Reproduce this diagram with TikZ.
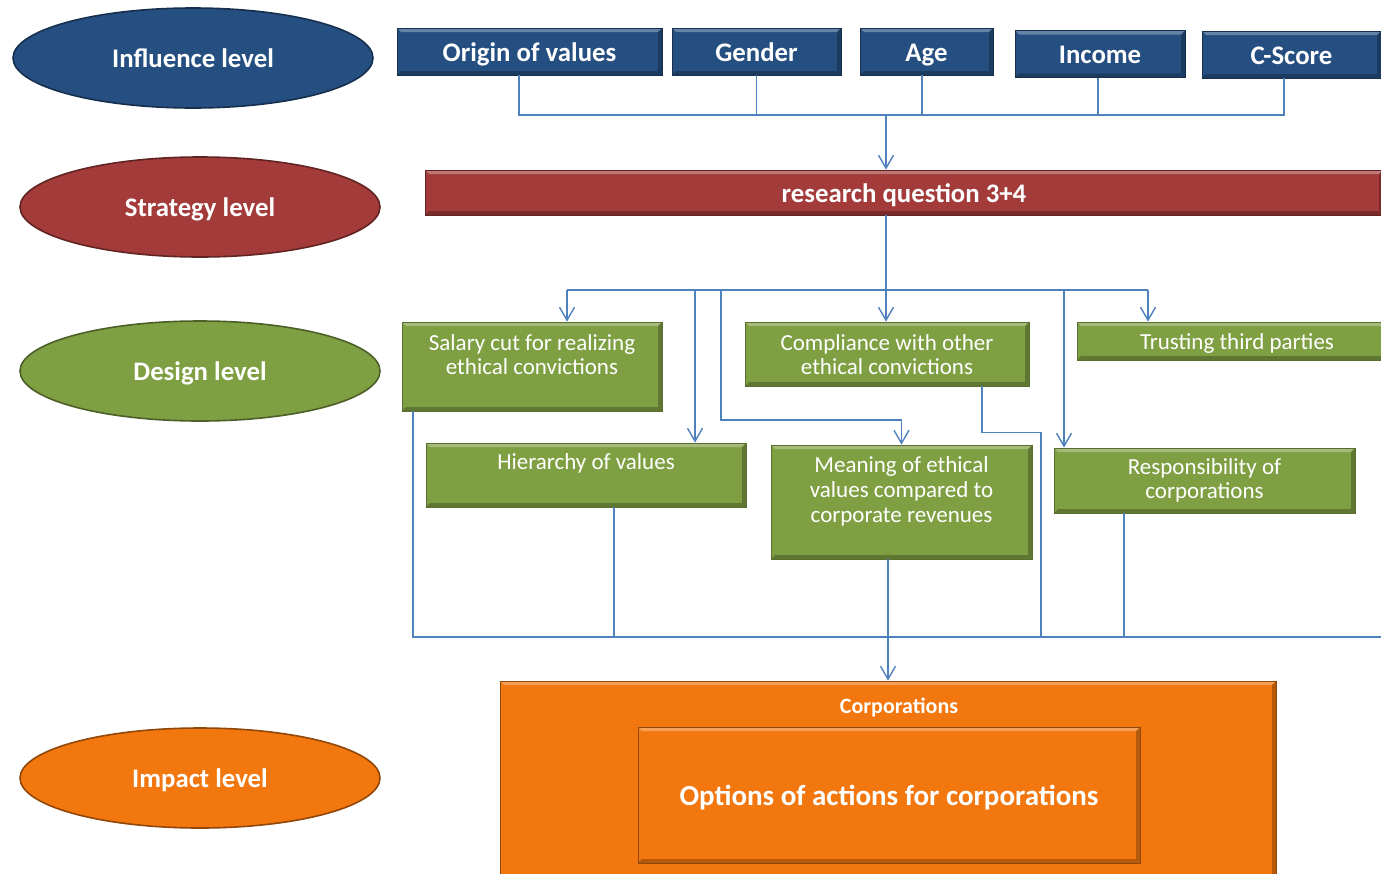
\documentclass[tikz,border=0pt]{standalone}
\usepackage{fontspec}
\setmainfont{Carlito}
\usetikzlibrary{positioning}
\usetikzlibrary{shapes.geometric}
\usetikzlibrary{arrows.meta}

\definecolor{lvlblue}{HTML}{254F81}
\definecolor{lvlred}{HTML}{A33B3A}
\definecolor{lvlgreen}{HTML}{7F9F43}
\definecolor{lvlorange}{HTML}{F2770F}
\definecolor{linkblue}{HTML}{4F81BD}

\begin{document}
\begin{tikzpicture}[x=0.5pt,y=-0.5pt]
	\tikzstyle{bevel} = [path picture={
		\fill[white,opacity=.3] (path picture bounding box.north west) -- (path picture bounding box.north east)
			-- ([shift={(-2pt,-2pt)}]path picture bounding box.north east) -- ([shift={(2pt,-2pt)}]path picture bounding box.north west) -- cycle;
		\fill[black,opacity=.25] (path picture bounding box.south west) -- (path picture bounding box.south east)
			-- (path picture bounding box.north east) -- ([shift={(-2pt,-2pt)}]path picture bounding box.north east)
			-- ([shift={(-2pt,2pt)}]path picture bounding box.south east) -- ([shift={(2pt,2pt)}]path picture bounding box.south west) -- cycle;}]
	\tikzstyle{level} = [ellipse,minimum width=180pt,minimum height=50pt,line width=0.8pt,text height=9.5pt,text depth=0pt,text=white,font=\bfseries\fontsize{13.4}{16}\selectfont]
	\tikzstyle{factor} = [rectangle,fill=lvlblue,draw=lvlblue!60!black,minimum height=23.5pt,inner sep=0pt,text height=9.5pt,text depth=0pt,text=white,font=\bfseries\fontsize{13.4}{16}\selectfont,bevel]
	\tikzstyle{design} = [rectangle,fill=lvlgreen,draw=lvlgreen!70!black,inner sep=0pt,align=center,text=white,font=\fontsize{11.5}{12.4}\selectfont,bevel]
	\tikzstyle{link} = [draw=linkblue,line width=0.7pt]
	\tikzstyle{arr} = [-{Straight Barb[length=6.5pt,width=7.5pt]}]

	\useasboundingbox (0,0) rectangle (1381,873);
	\clip (0,0) rectangle (1381,873);

	% levels
	\node[level,fill=lvlblue,draw=lvlblue!60!black] at (193,58) (inflvl) {Influence level};
	\node[level,fill=lvlred,draw=lvlred!60!black] at (200,207) (stratlvl) {Strategy level};
	\node[level,fill=lvlgreen,draw=lvlgreen!60!black] at (200,371) (desglvl) {Design level};
	\node[level,fill=lvlorange,draw=lvlorange!60!black] at (200,778) (implvl) {Impact level};

	% influence factors
	\node[factor,minimum width=132.5pt] at (529.5,51.5) (origin) {Origin of values};
	\node[factor,minimum width=84.5pt] at (756.5,51.5) (gender) {Gender};
	\node[factor,minimum width=66.5pt] at (926.5,51.5) (age) {Age};
	\node[factor,minimum width=85pt] at (1100,54) (income) {Income};
	\node[factor,minimum width=89.5pt] at (1291.5,54.5) (cscore) {C-Score};

	\node[factor,fill=lvlred,draw=lvlred!60!black,minimum width=479pt,minimum height=22.5pt] at (904,192.5) (rq) {research question 3+4};

	% design fields
	\node[design,minimum width=130pt,text height=26.4pt,text depth=18.1pt] at (532,366.5) (salary) {Salary cut for realizing\\ethical convictions};
	\node[design,minimum width=142pt,text height=26.4pt,text depth=5.6pt] at (887,354) (compl) {Compliance with other\\ethical convictions};
	\node[design,minimum width=160pt,text height=13.5pt,text depth=5.5pt] at (1237,341) (trust) {Trusting third parties};
	\node[design,minimum width=160pt,text height=13pt,text depth=19pt] at (586,475) (hier) {Hierarchy of values};
	\node[design,minimum width=130.5pt,text height=38.5pt,text depth=18.5pt] at (901.5,502) (meaning) {Meaning of ethical\\values compared to\\corporate revenues};
	\node[design,minimum width=150.5pt,text height=25.4pt,text depth=7.1pt] at (1204.5,480.5) (resp) {Responsibility of\\corporations};

	% impact
	\node[rectangle,fill=lvlorange,draw=lvlorange!60!black,minimum width=388pt,inner sep=0pt,text height=16pt,text depth=93.5pt,text=white,font=\bfseries\fontsize{11}{13}\selectfont,bevel] at (888,790.5) (corp) {\hspace*{11pt}Corporations};
	\node[rectangle,fill=lvlorange,draw=lvlorange!60!black,minimum width=251pt,minimum height=68pt,text height=10.5pt,text depth=0pt,text=white,font=\bfseries\fontsize{14.5}{17}\selectfont,bevel] at (889,795) (options) {Options of actions for corporations};

	% influence -> strategy
	\coordinate (inbus) at (886,115);
	\coordinate (uorigin) at ([xshift=-5.25pt]origin.south);
	\coordinate (uage) at ([xshift=-2.25pt]age.south);
	\coordinate (uincome) at ([xshift=-1pt]income.south);
	\coordinate (ucscore) at ([xshift=-3.75pt]cscore.south);
	\begin{scope}[link]
		\draw (uorigin) |- (inbus);
		\draw (gender.south) |- (inbus);
		\draw (uage) |- (inbus);
		\draw (uincome) |- (inbus);
		\draw (ucscore) |- (inbus);
		\draw[arr] (inbus) -- (inbus |- rq.north);
	\end{scope}

	% strategy -> design
	\coordinate (dbus) at (886,290);
	\coordinate (dsal) at (567,290);
	\coordinate (dhier) at (695,290);
	\coordinate (dmean) at (721,290);
	\coordinate (dresp) at (1064,290);
	\coordinate (dtrust) at (1148,290);
	\begin{scope}[link]
		\draw[arr] (rq.south -| dbus) -- (dbus) -- (dbus |- compl.north);
		\draw (dsal) -- (dtrust);
		\draw[arr] (dsal) -- (dsal |- salary.north);
		\draw[arr] (dhier) -- (dhier |- hier.north);
		\draw[arr] (dmean) -- ++(0,130) -| (meaning.north);
		\draw[arr] (dresp) -- (dresp |- resp.north);
		\draw[arr] (dtrust) -- (dtrust |- trust.north);
	\end{scope}

	% design -> impact
	\coordinate (ubus) at (413,637);
	\coordinate (uend) at (1400,637);
	\coordinate (ucompl) at (1041,637);
	\coordinate (uhier) at ([xshift=14pt]hier.south);
	\coordinate (ucmp) at ([xshift=47.5pt]compl.south);
	\coordinate (uresp) at ([xshift=-40.25pt]resp.south);
	\coordinate (umean) at ([xshift=-6.75pt]meaning.south);
	\begin{scope}[link]
		\draw (ubus |- salary.south) -- (ubus) -- (uend);
		\draw (uhier) -- (uhier |- ubus);
		\draw (ucmp) -- ++(0,46) -| (ucompl);
		\draw (uresp) -- (uresp |- ubus);
		\draw[arr] (umean) -- (corp.north);
	\end{scope}
\end{tikzpicture}
\end{document}
